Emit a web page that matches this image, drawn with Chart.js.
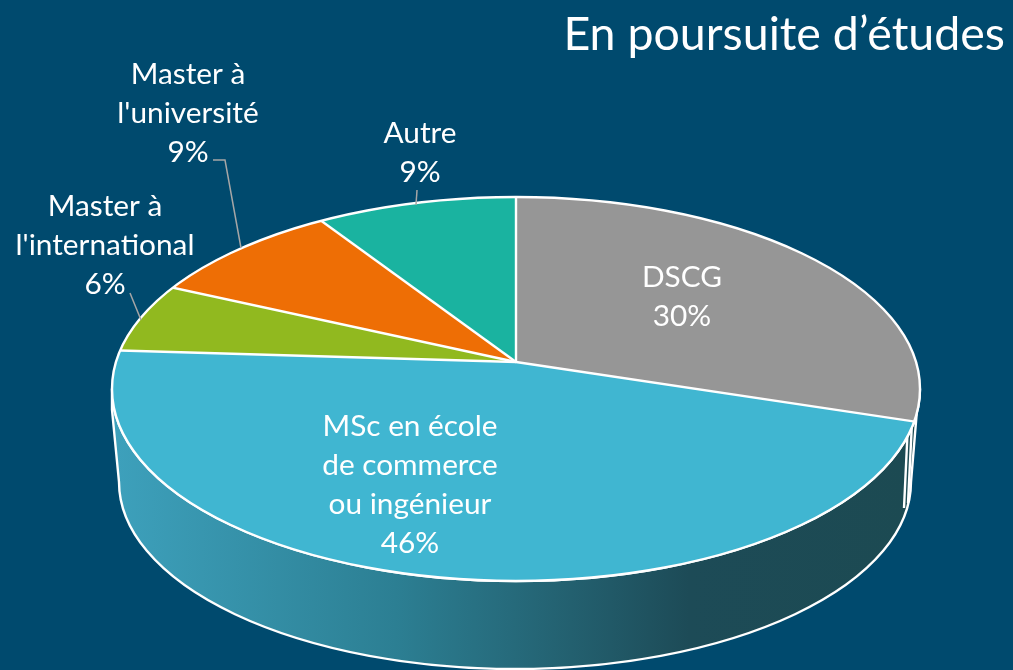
<!DOCTYPE html>
<html lang="fr">
<head>
<meta charset="utf-8">
<title>En poursuite d’études</title>
<script src="https://cdn.jsdelivr.net/npm/chart.js@4"></script>
<style>
html,body{margin:0;padding:0;background:#004a6e;}
canvas{display:block;}
</style>
</head>
<body>
<canvas id="c" width="1013" height="670"></canvas>
<script>
const titleText = "En poursuite d’études";
const categories = ["DSCG", "MSc en école de commerce ou ingénieur", "Master à l'international", "Master à l'université", "Autre"];
const values = [30, 46, 6, 9, 9];
const sliceColors = ["#969696", "#40b6d1", "#91b91f", "#ee6e05", "#1ab3a0"];
const labelLines = [["DSCG"], ["MSc en école", "de commerce", "ou ingénieur"], ["Master à", "l'international"], ["Master à", "l'université"], ["Autre"]];

// Drawing layout of the tilted pie (not data)
const BG = "#004a6e";
const APEX = {x: 516, y: 362};
const TOP_RIM = {x: 516, y: 389, rx: 404, ry: 192};
const LOW_RIM = {x: 515, y: 482, rx: 396, ry: 187};
const SCALE_X = 500, SCALE_Y = 230;
const LABEL_POS = [{x: 682, y: 277}, {x: 410, y: 426}, {x: 105, y: 206}, {x: 188, y: 74}, {x: 420, y: 133}];
const LINE_H = 39.2;
const LEADERS = [null, null, [[130, 293], [141, 320]], [[213, 160], [225, 160], [241, 248]], [[417, 190], [416, 205]]];

const tiltedPie = {
  id: "tiltedPie",
  beforeDatasetsDraw(chart) {
    const ctx = chart.ctx;
    const meta = chart.getDatasetMeta(0);
    const first = meta.data[0];
    const cx = first.x, cy = first.y, R = first.outerRadius;

    // Side wall
    ctx.save();
    const g = ctx.createLinearGradient(118, 0, 911, 0);
    g.addColorStop(0, "#3da0bb");
    g.addColorStop(0.35, "#2c7f93");
    g.addColorStop(0.72, "#1d4b57");
    g.addColorStop(1, "#1c4a52");
    ctx.beginPath();
    ctx.ellipse(TOP_RIM.x, TOP_RIM.y, TOP_RIM.rx, TOP_RIM.ry, 0, 0, Math.PI);
    ctx.lineTo(112, 410);
    ctx.lineTo(LOW_RIM.x - LOW_RIM.rx, LOW_RIM.y);
    ctx.ellipse(LOW_RIM.x, LOW_RIM.y, LOW_RIM.rx, LOW_RIM.ry, 0, Math.PI, 0, true);
    ctx.lineTo(917, 410);
    ctx.closePath();
    ctx.fillStyle = g;
    ctx.fill();
    ctx.strokeStyle = "#ffffff";
    ctx.lineWidth = 2.4;
    ctx.lineJoin = "round";
    ctx.stroke();
    // Thin wall of the first slice
    ctx.beginPath();
    ctx.moveTo(908, 423); ctx.lineTo(904, 508);
    ctx.moveTo(912, 422); ctx.lineTo(908, 503);
    ctx.stroke();
    ctx.restore();

    // Top face: pie drawn through its own controller, flattened and clipped to the rim
    const a = SCALE_X / R, d = SCALE_Y / R;
    const toFace = () => ctx.setTransform(a, 0, 0, d, APEX.x - cx * a, APEX.y - cy * d);
    ctx.save();
    ctx.beginPath();
    ctx.ellipse(TOP_RIM.x, TOP_RIM.y, TOP_RIM.rx, TOP_RIM.ry, 0, 0, Math.PI * 2);
    ctx.clip();
    toFace();
    meta.controller.draw();
    // separators, stroked at an even width
    meta.data.forEach((arc) => {
      ctx.save();
      toFace();
      ctx.beginPath();
      ctx.moveTo(cx, cy);
      ctx.lineTo(cx + R * Math.cos(arc.startAngle), cy + R * Math.sin(arc.startAngle));
      ctx.setTransform(1, 0, 0, 1, 0, 0);
      ctx.strokeStyle = "#ffffff";
      ctx.lineWidth = 2.4;
      ctx.stroke();
      ctx.restore();
    });
    ctx.restore();

    // Rim
    ctx.save();
    ctx.beginPath();
    ctx.ellipse(TOP_RIM.x, TOP_RIM.y, TOP_RIM.rx, TOP_RIM.ry, 0, 0, Math.PI * 2);
    ctx.strokeStyle = "#ffffff";
    ctx.lineWidth = 2.4;
    ctx.stroke();
    ctx.restore();

    // Leader lines
    ctx.save();
    ctx.strokeStyle = "#a6a6a6";
    ctx.lineWidth = 1.5;
    LEADERS.forEach((pts) => {
      if (!pts) return;
      ctx.beginPath();
      pts.forEach((p, i) => i ? ctx.lineTo(p[0], p[1]) : ctx.moveTo(p[0], p[1]));
      ctx.stroke();
    });
    ctx.restore();

    // Data labels
    ctx.save();
    ctx.fillStyle = "#ffffff";
    ctx.font = "400 29.8px Lato, sans-serif";
    ctx.textAlign = "center";
    ctx.textBaseline = "middle";
    values.forEach((v, i) => {
      const lines = labelLines[i].concat([v + "%"]);
      lines.forEach((t, j) => ctx.fillText(t, LABEL_POS[i].x, LABEL_POS[i].y + j * LINE_H));
    });
    ctx.restore();
    return false;
  }
};

new Chart(document.getElementById("c"), {
  type: "pie",
  data: {
    labels: categories,
    datasets: [{data: values, backgroundColor: sliceColors, borderWidth: 0}]
  },
  options: {
    responsive: false,
    animation: false,
    events: [],
    layout: {padding: {right: 8}},
    plugins: {
      legend: {display: false},
      tooltip: {enabled: false},
      title: {
        display: true,
        text: titleText,
        align: "end",
        color: "#ffffff",
        font: {family: "Lato, sans-serif", size: 46.5, weight: "400"},
        padding: {top: 7, bottom: 6}
      }
    }
  },
  plugins: [tiltedPie, {
    id: "bg",
    beforeDraw(chart) {
      chart.ctx.save();
      chart.ctx.fillStyle = BG;
      chart.ctx.fillRect(0, 0, chart.width, chart.height);
      chart.ctx.restore();
    }
  }]
});
</script>
</body>
</html>
